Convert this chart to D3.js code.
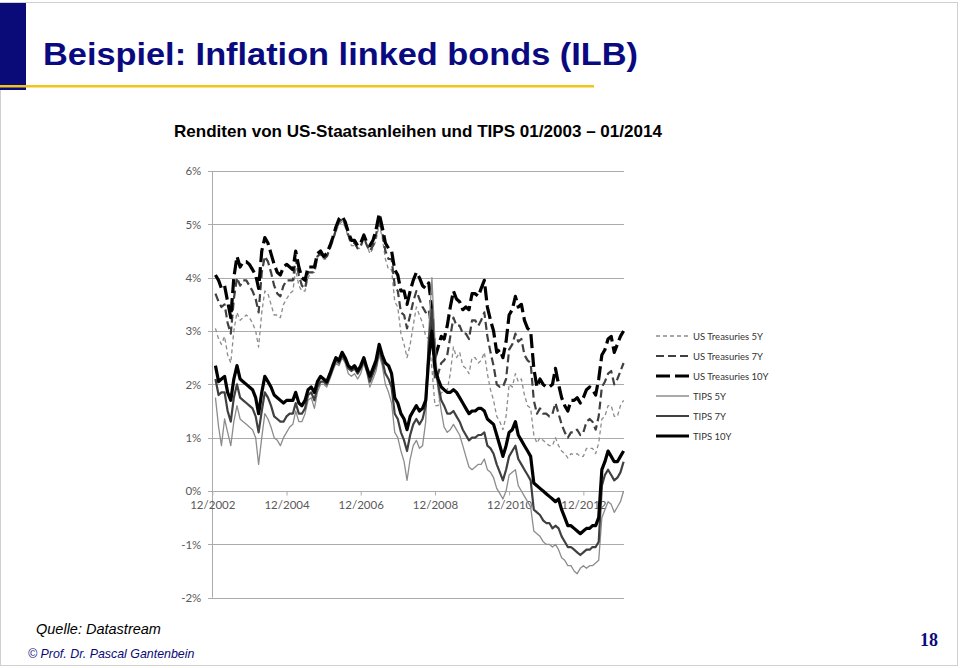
<!DOCTYPE html>
<html><head><meta charset="utf-8">
<script src="https://cdn.jsdelivr.net/npm/d3@7"></script>
<style>
html,body{margin:0;padding:0;background:#fff;}
svg{display:block;}
</style></head>
<body>
<svg id="chart" width="960" height="668"></svg>
<script>
// ---- data (monthly, Jan 2003 .. Jan 2014), yields in % ----
const startYear = 2003, startMonth = 0, monthCount = 133;

const treasuries5Y = [
 3.05,2.85,2.75,2.9,2.55,2.4,3.0,3.35,3.2,3.25,3.3,3.25,
 3.15,3.0,2.7,3.35,3.75,3.7,3.5,3.3,3.3,3.25,3.5,3.6,
 3.7,3.75,4.15,3.85,3.75,3.75,4.0,4.1,4.1,4.35,4.45,4.35,
 4.35,4.55,4.7,4.85,5.0,5.05,4.95,4.75,4.6,4.6,4.55,4.55,
 4.75,4.6,4.45,4.55,4.7,5.0,4.75,4.35,4.15,4.15,3.55,3.45,
 2.95,2.75,2.5,2.75,3.1,3.45,3.3,3.15,2.9,2.85,2.3,1.6,
 1.6,1.85,1.85,1.9,2.2,2.7,2.5,2.6,2.35,2.3,2.2,2.5,
 2.5,2.4,2.45,2.6,2.2,1.9,1.7,1.4,1.3,1.15,1.4,2.0,
 1.95,2.2,2.05,2.1,1.8,1.6,1.55,1.05,0.9,1.0,0.95,0.9,
 0.85,0.85,1.0,0.85,0.75,0.7,0.62,0.7,0.68,0.7,0.65,0.65,
 0.8,0.8,0.8,0.7,0.9,1.35,1.4,1.6,1.6,1.4,1.4,1.6,
 1.7];

const treasuries7Y = [
 3.7,3.55,3.45,3.5,3.15,2.95,3.6,4.0,3.85,3.95,3.95,3.85,
 3.75,3.6,3.35,4.1,4.4,4.3,4.1,3.85,3.7,3.65,3.85,3.95,
 3.95,3.95,4.35,4.05,3.85,3.8,4.1,4.1,4.1,4.4,4.45,4.35,
 4.4,4.55,4.7,4.9,5.05,5.1,5.0,4.8,4.65,4.65,4.55,4.6,
 4.75,4.6,4.5,4.6,4.8,5.1,4.85,4.5,4.35,4.35,3.85,3.75,
 3.35,3.3,3.05,3.3,3.55,3.75,3.6,3.45,3.35,3.4,2.9,2.1,
 2.2,2.4,2.45,2.55,2.9,3.25,3.1,3.1,2.95,2.95,2.85,3.2,
 3.2,3.1,3.2,3.35,2.9,2.6,2.35,2.0,1.95,1.95,2.1,2.65,
 2.75,2.95,2.8,2.85,2.55,2.45,2.4,1.7,1.45,1.55,1.45,1.45,
 1.4,1.45,1.65,1.45,1.25,1.1,1.0,1.1,1.1,1.15,1.05,1.1,
 1.3,1.35,1.3,1.15,1.4,1.95,2.05,2.2,2.25,2.0,2.1,2.25,
 2.4];

const treasuries10Y = [
 4.05,3.95,3.8,3.85,3.55,3.25,4.0,4.4,4.2,4.3,4.3,4.25,
 4.15,4.05,3.8,4.5,4.75,4.65,4.45,4.25,4.1,4.05,4.2,4.25,
 4.2,4.15,4.5,4.2,4.0,3.95,4.2,4.2,4.2,4.45,4.5,4.4,
 4.45,4.6,4.75,4.95,5.1,5.15,5.05,4.85,4.7,4.7,4.6,4.65,
 4.8,4.65,4.6,4.7,4.9,5.2,4.95,4.65,4.55,4.5,4.15,4.05,
 3.75,3.75,3.5,3.75,3.95,4.1,4.0,3.85,3.8,3.9,3.4,2.5,
 2.7,2.9,2.85,3.1,3.45,3.75,3.6,3.55,3.4,3.45,3.4,3.7,
 3.7,3.65,3.8,3.95,3.45,3.2,3.0,2.6,2.65,2.5,2.8,3.3,
 3.4,3.65,3.45,3.5,3.2,3.05,3.0,2.3,1.95,2.1,2.0,1.95,
 1.95,2.0,2.3,2.0,1.75,1.6,1.5,1.7,1.7,1.75,1.65,1.75,
 1.9,1.95,1.9,1.8,2.1,2.55,2.65,2.85,2.9,2.6,2.75,2.9,
 3.0];

const tips5Y = [
 1.75,1.2,0.85,1.35,1.1,0.85,1.3,1.6,1.35,1.3,1.25,1.2,
 1.15,1.0,0.5,1.0,1.45,1.35,1.2,1.0,0.95,0.85,1.0,1.1,
 1.2,1.25,1.5,1.3,1.3,1.45,1.7,1.75,1.55,1.85,2.0,2.0,
 1.95,2.1,2.25,2.4,2.35,2.5,2.4,2.2,2.15,2.2,2.1,2.2,
 2.4,2.2,1.95,2.1,2.25,2.55,2.35,2.0,1.85,1.65,1.1,1.0,
 0.75,0.55,0.2,0.6,0.85,0.95,0.8,0.85,1.3,3.0,4.0,2.8,
 1.9,1.5,1.2,1.1,1.15,1.25,1.15,1.05,0.85,0.65,0.45,0.4,
 0.45,0.5,0.5,0.6,0.4,0.35,0.25,0.05,-0.05,-0.15,0.0,0.3,
 0.35,0.4,0.1,0.0,-0.1,-0.2,-0.3,-0.75,-0.8,-0.85,-0.95,-1.0,
 -1.0,-1.05,-1.0,-1.1,-1.25,-1.3,-1.4,-1.4,-1.5,-1.55,-1.45,-1.4,
 -1.45,-1.4,-1.4,-1.35,-1.3,-0.5,-0.35,-0.2,-0.25,-0.4,-0.3,-0.2,
 0.0];

const tips7Y = [
 2.1,1.8,1.85,1.85,1.5,1.3,1.75,2.0,1.75,1.7,1.65,1.6,
 1.55,1.4,1.1,1.5,1.85,1.75,1.6,1.4,1.35,1.3,1.3,1.4,
 1.45,1.45,1.65,1.45,1.45,1.55,1.8,1.85,1.7,1.95,2.05,2.05,
 2.0,2.15,2.3,2.45,2.4,2.55,2.45,2.3,2.25,2.3,2.2,2.3,
 2.45,2.25,2.05,2.2,2.35,2.65,2.45,2.2,2.1,1.95,1.45,1.35,
 1.1,0.95,0.75,1.05,1.25,1.35,1.25,1.35,1.6,2.8,3.4,2.4,
 2.0,1.7,1.6,1.45,1.45,1.5,1.4,1.3,1.15,1.05,0.95,1.0,
 1.0,1.05,1.05,1.1,0.85,0.8,0.7,0.5,0.35,0.2,0.4,0.65,
 0.75,0.85,0.6,0.5,0.4,0.3,0.2,-0.35,-0.4,-0.45,-0.55,-0.6,
 -0.6,-0.7,-0.65,-0.7,-0.85,-0.95,-1.05,-1.05,-1.1,-1.15,-1.2,-1.15,
 -1.1,-1.1,-1.05,-1.05,-0.95,0.1,0.3,0.4,0.3,0.2,0.25,0.35,
 0.55];

const tips10Y = [
 2.35,2.05,2.1,2.15,1.85,1.7,2.1,2.35,2.1,2.05,2.0,1.95,
 1.9,1.75,1.45,1.85,2.15,2.05,1.95,1.8,1.75,1.7,1.65,1.7,
 1.7,1.7,1.85,1.65,1.6,1.7,1.9,1.95,1.85,2.05,2.15,2.1,
 2.05,2.2,2.35,2.5,2.45,2.6,2.5,2.35,2.3,2.35,2.25,2.35,
 2.5,2.3,2.15,2.3,2.45,2.75,2.55,2.4,2.35,2.2,1.75,1.65,
 1.45,1.35,1.15,1.4,1.5,1.6,1.5,1.55,1.7,2.5,3.0,2.3,
 2.1,1.95,1.9,1.85,1.85,1.9,1.85,1.75,1.65,1.55,1.45,1.5,
 1.5,1.55,1.55,1.5,1.35,1.3,1.25,1.05,0.85,0.65,0.85,1.1,
 1.15,1.3,1.05,0.95,0.85,0.75,0.65,0.15,0.1,0.05,0.0,-0.05,
 -0.1,-0.15,-0.2,-0.15,-0.35,-0.5,-0.65,-0.65,-0.7,-0.75,-0.8,-0.75,
 -0.7,-0.7,-0.65,-0.65,-0.5,0.4,0.55,0.75,0.65,0.55,0.55,0.65,
 0.75];

const seriesNames = ["US Treasuries 5Y","US Treasuries 7Y","US Treasuries 10Y","TIPS 5Y","TIPS 7Y","TIPS 10Y"];
const seriesValues = [treasuries5Y, treasuries7Y, treasuries10Y, tips5Y, tips7Y, tips10Y];
const yTicks = [-2,-1,0,1,2,3,4,5,6];
const xTickLabels = ["12/2002","12/2004","12/2006","12/2008","12/2010","12/2012"];

// ---- styles ----
const styles = [
  {color:"#8c8c8c", width:1.3, dash:"4,3"},
  {color:"#404040", width:2.2, dash:"8,4"},
  {color:"#000000", width:3.2, dash:"14,5"},
  {color:"#8c8c8c", width:1.3, dash:null},
  {color:"#404040", width:2.2, dash:null},
  {color:"#000000", width:3.2, dash:null}
];

const svg = d3.select("#chart");

// slide frame
svg.append("rect").attr("x",0.5).attr("y",2.5).attr("width",957).attr("height",663)
  .attr("fill","none").attr("stroke","#d0d0d0").attr("stroke-width",1);
svg.append("rect").attr("x",0).attr("y",3).attr("width",26).attr("height",87).attr("fill","#0a0a78");
svg.append("rect").attr("x",0).attr("y",85).attr("width",594).attr("height",2.5).attr("fill","#f0c419");

svg.append("text").attr("x",43).attr("y",65)
  .attr("font-family","Liberation Sans, Arial, sans-serif").attr("font-weight","bold")
  .attr("font-size",31).attr("fill","#0a0a80")
  .attr("textLength",595).attr("lengthAdjust","spacingAndGlyphs")
  .text("Beispiel: Inflation linked bonds (ILB)");

svg.append("text").attr("x",174).attr("y",137)
  .attr("font-family","Liberation Sans, Arial, sans-serif").attr("font-weight","bold")
  .attr("font-size",17).attr("fill","#000")
  .attr("textLength",488).attr("lengthAdjust","spacingAndGlyphs")
  .text("Renditen von US-Staatsanleihen und TIPS 01/2003 \u2013 01/2014");

svg.append("text").attr("x",36).attr("y",634)
  .attr("font-family","Liberation Sans, Arial, sans-serif").attr("font-style","italic")
  .attr("font-size",14.5).attr("fill","#000").text("Quelle: Datastream");
svg.append("text").attr("x",28).attr("y",658)
  .attr("font-family","Liberation Sans, Arial, sans-serif").attr("font-style","italic")
  .attr("font-size",12.4).attr("fill","#0a0a78").text("\u00A9 Prof. Dr. Pascal Gantenbein");
svg.append("text").attr("x",938).attr("y",646).attr("text-anchor","end")
  .attr("font-family","Liberation Serif, Times New Roman, serif").attr("font-weight","bold")
  .attr("font-size",18).attr("fill","#0a0a78").text("18");

// ---- scales ----
const months = d3.range(monthCount).map(i => new Date(startYear, startMonth + i, 1));
const x = d3.scaleTime().domain([new Date(2002,11,1), new Date(2014,0,5)]).range([212.3, 624]);
const y = d3.scaleLinear().domain([-2, 6]).range([597.7, 171]);

const axisFont = "Lato, Open Sans, sans-serif";
// gridlines
const grid = svg.append("g");
grid.selectAll("line").data(yTicks).join("line")
  .attr("x1", 208).attr("x2", 624)
  .attr("y1", d => Math.round(y(d)) + 0.5).attr("y2", d => Math.round(y(d)) + 0.5)
  .attr("stroke", "#ababab").attr("stroke-width", 1);
grid.append("line").attr("x1",212.5).attr("x2",212.5).attr("y1",y(6)).attr("y2",y(-2))
  .attr("stroke","#ababab");

// y axis labels
const yAxis = d3.axisLeft(y).tickValues(yTicks).tickSize(0).tickPadding(11)
  .tickFormat(d => d + "%");
const gy = svg.append("g").attr("transform","translate(212.3,0)").call(yAxis);
gy.select(".domain").remove();
gy.selectAll("text").attr("font-family",axisFont).attr("font-size",11.5).attr("fill","#595959");

// x axis at 0%
const xTickDates = d3.range(2002, 2014, 2).map(yr => new Date(yr, 11, 1));
const xAxis = d3.axisBottom(x).tickValues(xTickDates).tickSize(4).tickPadding(5)
  .tickFormat((d,i) => xTickLabels[i]);
const gx = svg.append("g").attr("transform",`translate(0,${Math.round(y(0))+0.5})`).call(xAxis);
gx.select(".domain").remove();
gx.selectAll("line").attr("stroke","#ababab");
gx.selectAll("text").attr("font-family",axisFont).attr("font-size",11.5).attr("fill","#595959");

// ---- lines ----
const line = d3.line().x((d,i) => x(months[i])).y(d => y(d));
const linesG = svg.append("g");
seriesValues.forEach((vals, k) => {
  linesG.append("path").datum(vals).attr("d", line)
    .attr("fill","none").attr("stroke", styles[k].color)
    .attr("stroke-width", styles[k].width)
    .attr("stroke-dasharray", styles[k].dash)
    .attr("stroke-linejoin","round");
});

// ---- legend ----
const legend = svg.append("g");
seriesNames.forEach((name, k) => {
  const yy = 336 + k * 20;
  legend.append("line").attr("x1",656).attr("x2",689).attr("y1",yy).attr("y2",yy)
    .attr("stroke", styles[k].color).attr("stroke-width", styles[k].width)
    .attr("stroke-dasharray", styles[k].dash);
  legend.append("text").attr("x",693).attr("y",yy+3.5)
    .attr("font-family",axisFont).attr("font-size",9.5).attr("fill","#333")
    .text(name);
});
</script>
</body></html>
